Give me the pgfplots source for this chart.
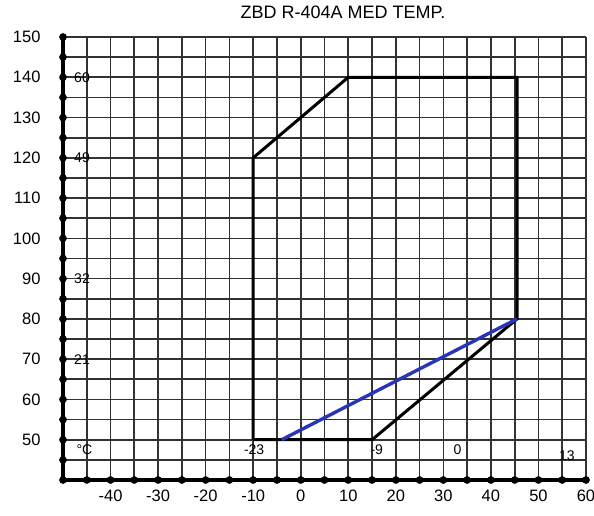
\documentclass[border=0pt]{standalone}
\usepackage{pgfplots}
\pgfplotsset{compat=1.18}
\usepackage{fontspec}
\setmainfont{Liberation Sans}
\definecolor{envblue}{RGB}{40,52,185}
\definecolor{gridgray}{RGB}{50,50,50}
\begin{document}
\begin{tikzpicture}[x=1pt,y=1pt]
\useasboundingbox (-63,-36) rectangle (531,480);
\begin{axis}[
  at={(0,0)}, anchor=south west,
  scale only axis, width=523pt, height=443pt,
  xmin=-50, xmax=60, ymin=40, ymax=150,
  xtick={-40,-30,...,60}, ytick={50,60,...,150},
  minor xtick={-45,-35,...,55}, minor ytick={45,55,...,145},
  grid=both,
  major grid style={gridgray, line width=1.7pt},
  minor grid style={gridgray, line width=1.7pt},
  major tick length=0pt, minor tick length=0pt,
  axis x line*=bottom, axis y line*=left,
  axis line style={line width=4.5pt, -},
  /pgf/number format/assume math mode=true,
  tick label style={font=\fontsize{16.5}{18}\selectfont},
  xticklabel style={yshift=-6pt},
  yticklabel style={xshift=-19pt},
  clip=false,
]
% axis dots
\addplot[only marks, mark=*, mark size=3.6pt, black] coordinates {
 (-50,40)(-50,45)(-50,50)(-50,55)(-50,60)(-50,65)(-50,70)(-50,75)(-50,80)(-50,85)
 (-50,90)(-50,95)(-50,100)(-50,105)(-50,110)(-50,115)(-50,120)(-50,125)(-50,130)
 (-50,135)(-50,140)(-50,145)(-50,150)
 (-45,40)(-40,40)(-35,40)(-30,40)(-25,40)(-20,40)(-15,40)(-10,40)(-5,40)(0,40)
 (5,40)(10,40)(15,40)(20,40)(25,40)(30,40)(35,40)(40,40)(45,40)(50,40)(55,40)(60,40)
};
% envelope
\addplot[black, line width=3pt, line join=round] coordinates {
 (-10,50) (-10,120) (10,140) (45.5,140) (45.5,80) (15,50) (-10,50)
};
\addplot[envblue, line width=3.4pt] coordinates {(-4,50) (45.5,80)};
% annotations
\node[font=\fontsize{14}{16}\selectfont] at (axis cs:-46,140) {60};
\node[font=\fontsize{14}{16}\selectfont] at (axis cs:-46,120) {49};
\node[font=\fontsize{14}{16}\selectfont] at (axis cs:-46,90) {32};
\node[font=\fontsize{14}{16}\selectfont] at (axis cs:-46,70) {21};
\node[font=\fontsize{14}{16}\selectfont] at (axis cs:-45.5,47.5) {°C};
\node[font=\fontsize{14}{16}\selectfont] at (axis cs:-9.8,47.5) {-23};
\node[font=\fontsize{14}{16}\selectfont] at (axis cs:16,47.5) {-9};
\node[font=\fontsize{14}{16}\selectfont] at (axis cs:33,47.5) {0};
\node[font=\fontsize{14}{16}\selectfont] at (axis cs:56,46) {13};
\end{axis}
\node[font=\fontsize{18}{20}\selectfont] at (280,468) {ZBD R-404A MED TEMP.};
\end{tikzpicture}
\end{document}
